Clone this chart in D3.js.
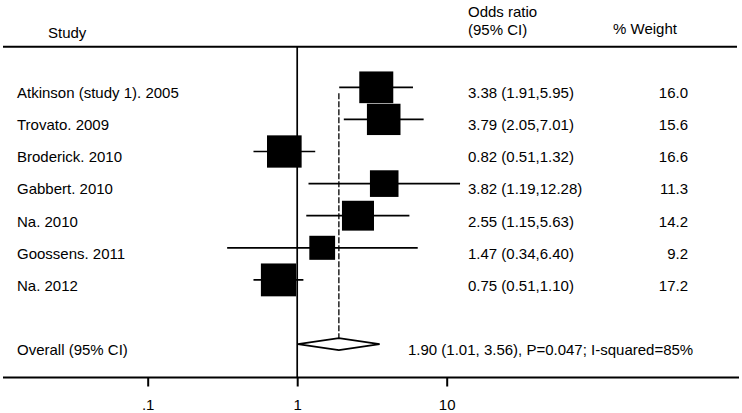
<!DOCTYPE html>
<html>
<head>
<meta charset="utf-8">
<script src="https://cdn.jsdelivr.net/npm/d3@7"></script>
<style>
  body { margin: 0; background: #fff; }
  text { font-family: "Liberation Sans", Arial, sans-serif; font-size: 15px; fill: #000; }
</style>
</head>
<body>
<div id="chart"></div>
<script>
// study data
var studies = ["Atkinson (study 1). 2005", "Trovato. 2009", "Broderick. 2010", "Gabbert. 2010",
               "Na. 2010", "Goossens. 2011", "Na. 2012"];
var oddsRatio = [3.38, 3.79, 0.82, 3.82, 2.55, 1.47, 0.75];
var ciLow     = [1.91, 2.05, 0.51, 1.19, 1.15, 0.34, 0.51];
var ciHigh    = [5.95, 7.01, 1.32, 12.28, 5.63, 6.40, 1.10];
var weights   = [16.0, 15.6, 16.6, 11.3, 14.2, 9.2, 17.2];

var overallLabel = "Overall (95% CI)";
var overallOR = [1.90, 1.01, 3.56];   // estimate, low, high
var overallText = "1.90 (1.01, 3.56), P=0.047; I-squared=85%";

var tickValues = [0.1, 1, 10];
var tickLabels = [".1", "1", "10"];

var width = 742, height = 413;

var svg = d3.select("#chart").append("svg")
  .attr("width", width)
  .attr("height", height);

// log scale for odds ratio
var x = d3.scaleLog().domain([0.1, 10]).range([147.7, 446.7]);
// row index -> vertical position (row 7 is blank, overall sits on row 8)
var y = d3.scaleLinear().domain([0, 6]).range([87.3, 279.9]);
var boxW = d3.scaleSqrt().domain([0, 16]).range([0, 34]);
var boxH = d3.scaleSqrt().domain([0, 16]).range([0, 31.7]);

var topY = 46.7, axisY = 377.5;
var fmt = d3.format(".2f"), fmtW = d3.format(".1f");

var data = studies.map(function(s, i) {
  return {study: s, or: oddsRatio[i], lo: ciLow[i], hi: ciHigh[i], w: weights[i], row: i};
});

// header
svg.append("text").attr("x", 48).attr("y", 37.5).text("Study");
svg.append("text").attr("x", 468).attr("y", 16.5).text("Odds ratio");
svg.append("text").attr("x", 468).attr("y", 35).text("(95% CI)");
svg.append("text").attr("x", 613).attr("y", 34).text("% Weight");

svg.append("line")
  .attr("x1", 3).attr("x2", 737)
  .attr("y1", topY).attr("y2", topY)
  .attr("stroke", "#000").attr("stroke-width", 2);

// null line at OR = 1
svg.append("line")
  .attr("x1", x(1)).attr("x2", x(1))
  .attr("y1", topY).attr("y2", axisY)
  .attr("stroke", "#000").attr("stroke-width", 1.7);

// overall estimate dashed line
svg.append("line")
  .attr("x1", x(overallOR[0])).attr("x2", x(overallOR[0]))
  .attr("y1", y(0) + 6).attr("y2", y(8) - 6)
  .attr("stroke", "#000").attr("stroke-width", 1.3)
  .attr("stroke-dasharray", "6,2");

// confidence intervals
svg.selectAll(".ci")
  .data(data)
  .enter()
  .append("line")
    .attr("class", "ci")
    .attr("x1", function(d) { return x(d.lo); })
    .attr("x2", function(d) { return x(d.hi); })
    .attr("y1", function(d) { return y(d.row); })
    .attr("y2", function(d) { return y(d.row); })
    .attr("stroke", "#000").attr("stroke-width", 1.7);

// weight boxes
svg.selectAll(".box")
  .data(data)
  .enter()
  .append("rect")
    .attr("class", "box")
    .attr("x", function(d) { return x(d.or) - boxW(d.w) / 2; })
    .attr("y", function(d) { return y(d.row) - boxH(d.w) / 2; })
    .attr("width", function(d) { return boxW(d.w); })
    .attr("height", function(d) { return boxH(d.w); })
    .attr("fill", "#000");

// text columns
svg.selectAll(".name")
  .data(data)
  .enter()
  .append("text")
    .attr("x", 17)
    .attr("y", function(d) { return y(d.row) + 10.8; })
    .text(function(d) { return d.study; });

svg.selectAll(".ortext")
  .data(data)
  .enter()
  .append("text")
    .attr("x", 468)
    .attr("y", function(d) { return y(d.row) + 10.8; })
    .text(function(d) { return fmt(d.or) + " (" + fmt(d.lo) + "," + fmt(d.hi) + ")"; });

svg.selectAll(".wtext")
  .data(data)
  .enter()
  .append("text")
    .attr("x", 688)
    .attr("y", function(d) { return y(d.row) + 10.8; })
    .attr("text-anchor", "end")
    .text(function(d) { return fmtW(d.w); });

// overall diamond
var oy = y(8);
svg.append("path")
  .attr("d", "M" + x(overallOR[1]) + "," + oy +
             "L" + x(overallOR[0]) + "," + (oy - 6) +
             "L" + x(overallOR[2]) + "," + oy +
             "L" + x(overallOR[0]) + "," + (oy + 6) + "Z")
  .attr("fill", "#fff").attr("stroke", "#000").attr("stroke-width", 1.6);

svg.append("text").attr("x", 17).attr("y", oy + 10.5).text(overallLabel);
svg.append("text").attr("x", 408).attr("y", oy + 10.5).text(overallText);

// x axis
svg.append("line")
  .attr("x1", 3).attr("x2", 739)
  .attr("y1", axisY).attr("y2", axisY)
  .attr("stroke", "#000").attr("stroke-width", 2);

var axis = svg.append("g")
  .attr("transform", "translate(0," + axisY + ")")
  .call(d3.axisBottom(x)
    .tickValues(tickValues)
    .tickSize(9)
    .tickPadding(13)
    .tickFormat(function(d, i) { return tickLabels[i]; }));

axis.select(".domain").remove();
axis.selectAll("line").attr("stroke", "#000").attr("stroke-width", 2);
axis.selectAll("text")
  .attr("font-family", "Liberation Sans, Arial, sans-serif")
  .attr("font-size", 15)
  .attr("fill", "#000");
</script>
</body>
</html>
